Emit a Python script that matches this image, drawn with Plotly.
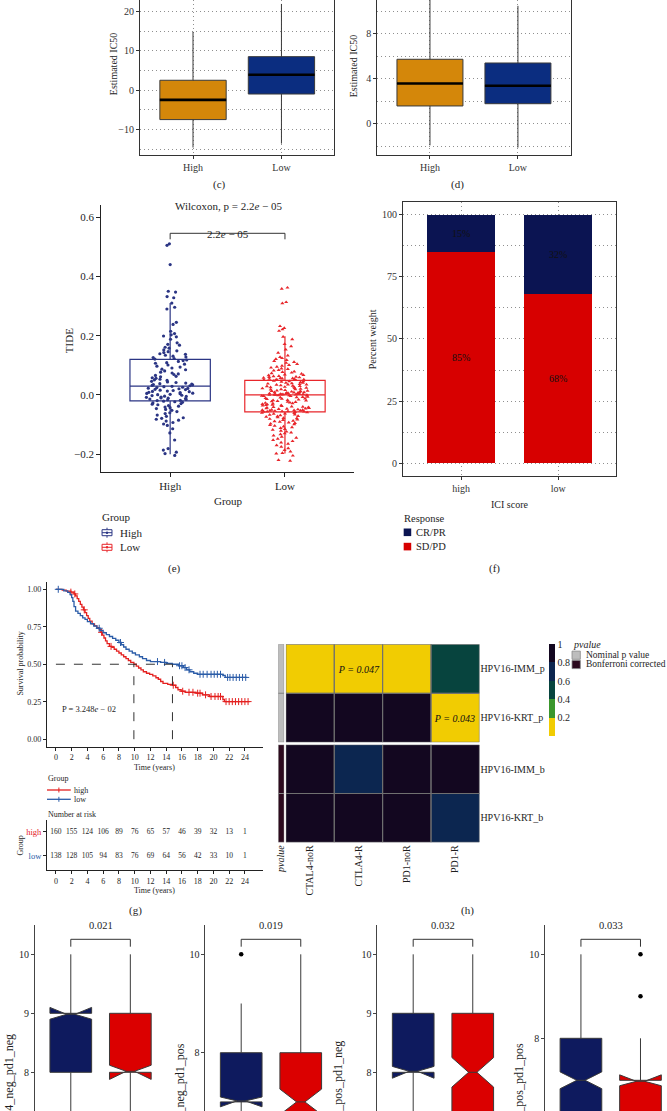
import numpy as np
import plotly.graph_objects as go

W, H = 667, 1111
SERIF = "Liberation Serif"
INK = "#1e1e1e"
AX = "#333333"


def fx(px):
    return px / W


def fy(py):
    return 1 - py / H


# ---------------- (c) / (d) estimated IC50 ----------------
ic50_groups = ["High", "Low"]
ic50_colors = ["#D4870A", "#0B2D80"]
c_q1 = [-7.5, -1.0]
c_median = [-2.5, 3.9]
c_q3 = [2.5, 8.5]
c_low = [-14.6, -13.6]
c_high = [14.8, 21.9]
d_q1 = [1.6, 1.8]
d_median = [3.6, 3.4]
d_q3 = [5.75, 5.42]
d_low = [-1.9, -2.1]
d_high = [13.0, 10.5]

# ---------------- (e) TIDE ----------------
tide_groups = ["High", "Low"]
tide_colors = ["#2B3584", "#E8262B"]
tide_q1 = [-0.02, -0.057]
tide_median = [0.03, 0.0]
tide_q3 = [0.12, 0.049]
tide_low = [-0.2, -0.198]
tide_high = [0.31, 0.198]
tide_points_high = [
    0.51, 0.505, 0.44, 0.35, 0.347, 0.332, 0.328, 0.31, 0.296, 0.29, 0.245, 0.238, 0.215, 0.207, 0.203,
    0.199, 0.196, 0.188, 0.176, 0.171, 0.168, 0.161, 0.158, 0.152, 0.149, 0.146, 0.143, 0.139, 0.137,
    0.134, 0.131, 0.128, 0.126, 0.123, 0.121,
    0.118, 0.116, 0.113, 0.109, 0.107, 0.104, 0.101, 0.097, 0.094, 0.091, 0.087, 0.085, 0.081, 0.077,
    0.074, 0.071, 0.069, 0.066, 0.063, 0.061, 0.058, 0.056, 0.053, 0.051, 0.049, 0.046, 0.044, 0.042,
    0.04, 0.038, 0.037, 0.035, 0.034, 0.032, 0.031,
    0.029, 0.028, 0.026, 0.025, 0.023, 0.022, 0.021, 0.019, 0.018, 0.016, 0.015, 0.013, 0.012, 0.011,
    0.009, 0.008, 0.006, 0.005, 0.004, 0.002, 0.001, -0.001, -0.002, -0.004, -0.005, -0.007, -0.008,
    -0.01, -0.011, -0.012, -0.014, -0.015, -0.017, -0.018, -0.019,
    -0.021, -0.023, -0.025, -0.027, -0.029, -0.031, -0.033, -0.036, -0.038, -0.041, -0.043, -0.046,
    -0.049, -0.052, -0.056, -0.06, -0.063, -0.068, -0.072, -0.077, -0.079, -0.082, -0.085, -0.088,
    -0.093, -0.098, -0.103, -0.114, -0.128, -0.152, -0.181, -0.186, -0.193, -0.198, -0.204,
]
tide_points_low = [
    0.362, 0.358, 0.313, 0.309, 0.232, 0.226, 0.221, 0.216, 0.196, 0.188, 0.172, 0.164, 0.153, 0.142,
    0.133, 0.128, 0.124, 0.121, 0.118, 0.114, 0.111, 0.108, 0.104, 0.101, 0.098, 0.095, 0.092, 0.089,
    0.087, 0.084, 0.082, 0.079, 0.077, 0.075, 0.073, 0.071, 0.069, 0.067, 0.066, 0.064, 0.063, 0.061,
    0.06, 0.059, 0.058, 0.057, 0.056, 0.055, 0.054, 0.053, 0.052, 0.052, 0.051, 0.05, 0.05,
    0.048, 0.046, 0.046, 0.044, 0.043, 0.041, 0.041, 0.039, 0.038, 0.037, 0.035, 0.035, 0.034, 0.032,
    0.031, 0.03, 0.029, 0.027, 0.027, 0.026, 0.024, 0.023, 0.022, 0.021, 0.019, 0.019, 0.018, 0.016,
    0.015, 0.014, 0.013, 0.012, 0.011, 0.01, 0.009, 0.009, 0.008, 0.007, 0.006, 0.006, 0.005, 0.004,
    0.004, 0.003, 0.003, 0.002, 0.002, 0.001, 0.001, 0.001, 0.0, 0.0, 0.0, -0.001, 0.002,
    -0.001, -0.002, -0.003, -0.004, -0.004, -0.006, -0.007, -0.008, -0.009, -0.011, -0.012, -0.013,
    -0.014, -0.016, -0.017, -0.018, -0.019, -0.021, -0.022, -0.023, -0.024, -0.026, -0.027, -0.028,
    -0.029, -0.031, -0.032, -0.033, -0.034, -0.035, -0.036, -0.038, -0.039, -0.04, -0.041, -0.042,
    -0.043, -0.044, -0.045, -0.046, -0.047, -0.048, -0.049, -0.05, -0.051, -0.051, -0.052, -0.053,
    -0.053, -0.054, -0.055, -0.055, -0.056, -0.056, -0.057,
    -0.058, -0.059, -0.06, -0.061, -0.063, -0.064, -0.066, -0.067, -0.069, -0.071, -0.072, -0.074,
    -0.076, -0.078, -0.079, -0.081, -0.083, -0.085, -0.087, -0.089, -0.091, -0.093, -0.095, -0.097,
    -0.099, -0.102, -0.104, -0.107, -0.109, -0.112, -0.115, -0.118, -0.121, -0.124, -0.127, -0.13,
    -0.133, -0.137, -0.141, -0.145, -0.148, -0.152, -0.156, -0.161, -0.165, -0.17, -0.175, -0.18,
    -0.186, -0.191, -0.196, -0.198, -0.205, -0.22, -0.222,
]
tide_test = "Wilcoxon, p = 2.2<i>e</i> − 05"
tide_p = "2.2<i>e</i> − 05"

# ---------------- (f) response ----------------
ici_groups = ["high", "low"]
resp_sdpd = [85, 68]
resp_crpr = [15, 32]
resp_colors = {"CR/PR": "#0B1452", "SD/PD": "#D70000"}

# ---------------- (g) survival ----------------
surv_colors = {"high": "#E4201F", "low": "#2B5CA8"}
surv_high_t = [0, 0.8, 1.3, 1.9, 2.3, 2.5, 2.7, 2.9, 3.1, 3.3, 3.5, 3.7, 3.9, 4.1, 4.3, 4.6, 4.9, 5.2,
               5.5, 5.7, 5.9, 6.1, 6.3, 6.5, 6.8, 7.1, 7.4, 7.7, 8.0, 8.3, 8.6, 8.9, 9.2, 9.5, 9.9,
               10.2, 10.5, 10.8, 11.1, 11.5, 11.9, 12.3, 12.7, 13.0, 13.3, 13.6, 14.2, 14.8, 15.2,
               15.5, 15.9, 16.4, 17.8, 18.6, 19.5, 21.2, 21.4, 24.6]
surv_high_s = [1.0, 0.994, 0.988, 0.981, 0.969, 0.956, 0.938, 0.919, 0.9, 0.881, 0.863, 0.844, 0.825,
               0.806, 0.788, 0.769, 0.756, 0.744, 0.731, 0.713, 0.694, 0.675, 0.656, 0.638, 0.619,
               0.613, 0.6, 0.588, 0.575, 0.563, 0.55, 0.538, 0.525, 0.513, 0.5, 0.488, 0.475, 0.463,
               0.45, 0.44, 0.433, 0.423, 0.41, 0.4, 0.385, 0.372, 0.366, 0.36, 0.345, 0.33, 0.32,
               0.313, 0.307, 0.296, 0.285, 0.265, 0.251, 0.251]
surv_low_t = [0, 1.0, 1.5, 1.8, 2.0, 2.15, 2.3, 2.5, 2.8, 3.1, 3.4, 3.7, 4.0, 4.4, 4.8, 5.2, 5.6, 6.0,
              6.4, 6.8, 7.2, 7.6, 8.0, 8.3, 8.6, 8.9, 9.3, 9.7, 10.1, 10.6, 11.0, 11.5, 12.0, 13.3,
              14.0, 14.8, 15.6, 16.2, 16.6, 17.0, 17.5, 18.0, 21.2, 21.5, 24.3]
surv_low_s = [1.0, 0.99, 0.98, 0.965, 0.945, 0.92, 0.885, 0.855, 0.84, 0.825, 0.81, 0.8, 0.785, 0.77,
              0.755, 0.74, 0.725, 0.71, 0.698, 0.685, 0.672, 0.66, 0.645, 0.63, 0.615, 0.6, 0.588,
              0.575, 0.563, 0.55, 0.538, 0.525, 0.518, 0.512, 0.506, 0.5, 0.49, 0.478, 0.463, 0.45,
              0.44, 0.433, 0.425, 0.412, 0.412]
censor_high = [1.9, 2.4, 3.6, 5.8, 7.0, 14.9, 16.1, 16.9, 17.4, 18.0, 18.3, 19.0, 19.7, 20.2, 20.6,
               20.9, 21.6, 22.0, 22.4, 22.8, 23.2, 23.6, 24.0, 24.4]
censor_low = [0.3, 5.5, 8.2, 12.9, 13.8, 15.7, 16.0, 16.4, 16.9, 18.3, 18.7, 19.2, 19.7, 20.1, 20.5,
              20.9, 21.8, 22.1, 22.5, 22.9, 23.3, 23.7, 24.1]
surv_p = "P = 3.248<i>e</i> − 02"
risk_times = [0, 2, 4, 6, 8, 10, 12, 14, 16, 18, 20, 22, 24]
risk_high = [160, 155, 124, 106, 89, 76, 65, 57, 46, 39, 32, 13, 1]
risk_low = [138, 128, 105, 94, 83, 76, 69, 64, 56, 42, 33, 10, 1]

# ---------------- (h) heatmap ----------------
hm_cols = ["CTAL4-noR", "CTLA4-R", "PD1-noR", "PD1-R"]
hm_rows_nominal = ["HPV16-IMM_p", "HPV16-KRT_p"]
hm_rows_bonf = ["HPV16-IMM_b", "HPV16-KRT_b"]
hm_nominal = [[0.12, 0.047, 0.15, 0.5], [1.0, 1.0, 1.0, 0.043]]
hm_bonf = [[1.0, 0.75, 1.0, 1.0], [1.0, 1.0, 1.0, 0.69]]
pvalue_types = ["Nominal p value", "Bonferroni corrected"]
pvalue_colors = ["#BDBDBD", "#2C0A1E"]
hm_scale = [[0.0, "#F1CC02"], [0.2, "#F1CC02"], [0.2, "#3A962C"], [0.4, "#3A962C"],
            [0.4, "#07443E"], [0.6, "#07443E"], [0.6, "#0C2650"], [0.8, "#0C2650"],
            [0.8, "#130720"], [1.0, "#130720"]]

# ---------------- (i) IPS notched boxes ----------------
ips_names = ["ips_ctla4_neg_pd1_neg", "ips_ctla4_neg_pd1_pos", "ips_ctla4_pos_pd1_neg",
             "ips_ctla4_pos_pd1_pos"]
ips_groups = ["High", "Low"]
ips_colors = ["#0E1A5E", "#DB0000"]
ips_q1 = [[8, 8], [7, 6], [8, 7], [6, 6]]
ips_median = [[9, 8], [7, 7], [8, 8], [7, 7]]
ips_q3 = [[9, 9], [8, 8], [9, 9], [8, 7]]
ips_low = [[6, 6], [5, 4], [6, 5], [4, 5]]
ips_high = [[10, 10], [9, 10], [10, 10], [10, 8]]
ips_notch = [[0.1, 0.12], [0.1, 0.26], [0.1, 0.25], [0.2, 0.13]]
ips_outliers = [[[], []], [[10], []], [[], []], [[], [9, 10]]]
ips_p = ["0.021", "0.019", "0.032", "0.033"]

# =====================================================================
fig = go.Figure()
shapes = []
anns = []


def A(text, px, py, size=10, xanchor="center", yanchor="middle", angle=0, color=INK):
    anns.append(dict(text=text, x=fx(px), y=fy(py), xref="paper", yref="paper", showarrow=False,
                     xanchor=xanchor, yanchor=yanchor, textangle=angle, borderpad=0,
                     font=dict(family=SERIF, size=size, color=color)))


def R(px0, py0, px1, py1, fill, line=None, width=1):
    shapes.append(dict(type="rect", xref="paper", yref="paper", x0=fx(px0), x1=fx(px1),
                       y0=fy(py1), y1=fy(py0), fillcolor=fill,
                       line=dict(color=line if line else fill, width=width if line else 0)))


def L(px0, py0, px1, py1, color, width=1):
    shapes.append(dict(type="line", xref="paper", yref="paper", x0=fx(px0), x1=fx(px1),
                       y0=fy(py0), y1=fy(py1), line=dict(color=color, width=width)))


def bracket(xref, py_line, py_tick, py_text, label, size):
    shapes.append(dict(type="line", xref=xref, yref="paper", x0=0, x1=1, y0=fy(py_line),
                       y1=fy(py_line), line=dict(color=AX, width=1)))
    for xv in (0, 1):
        shapes.append(dict(type="line", xref=xref, yref="paper", x0=xv, x1=xv, y0=fy(py_line),
                           y1=fy(py_tick), line=dict(color=AX, width=1)))
    anns.append(dict(text=label, xref=xref, x=0.5, yref="paper", y=fy(py_text), showarrow=False,
                     font=dict(family=SERIF, size=size, color=INK)))


# ---- (c) & (d)
for (xa, ya, q1, med, q3, lo, hi) in [("x", "y", c_q1, c_median, c_q3, c_low, c_high),
                                       ("x2", "y2", d_q1, d_median, d_q3, d_low, d_high)]:
    for k, g in enumerate(ic50_groups):
        fig.add_trace(go.Box(x=[g], q1=[q1[k]], median=[med[k]], q3=[q3[k]], lowerfence=[lo[k]],
                             upperfence=[hi[k]], fillcolor=ic50_colors[k], width=0.75,
                             line=dict(color="#3a3a3a", width=1), whiskerwidth=0,
                             boxpoints=False, xaxis=xa, yaxis=ya, showlegend=False,
                             hoverinfo="skip"))
        shapes.append(dict(type="line", xref=xa, yref=ya, x0=k - 0.375, x1=k + 0.375,
                           y0=med[k], y1=med[k], line=dict(color="#000000", width=2.6)))

# ---- (e)
pts_lists = [tide_points_high, tide_points_low]
symbols = ["circle", "triangle-up"]
for k, g in enumerate(tide_groups):
    fig.add_trace(go.Box(x=[g], q1=[tide_q1[k]], median=[tide_median[k]], q3=[tide_q3[k]],
                         lowerfence=[tide_low[k]], upperfence=[tide_high[k]],
                         fillcolor="rgba(255,255,255,0)", width=0.7,
                         line=dict(color=tide_colors[k], width=1.2), whiskerwidth=0,
                         boxpoints=False, xaxis="x3", yaxis="y3", showlegend=False,
                         hoverinfo="skip"))
for k, g in enumerate(tide_groups):
    fig.add_trace(go.Box(x=[g] * len(pts_lists[k]), y=pts_lists[k], boxpoints="all", jitter=0.6,
                         pointpos=0, width=0.7, fillcolor="rgba(0,0,0,0)", line=dict(width=0),
                         marker=dict(color=tide_colors[k], size=3.2 if k == 0 else 3.6,
                                     symbol=symbols[k]),
                         xaxis="x3", yaxis="y3", showlegend=False, hoverinfo="skip"))
bracket("x3", 233.3, 239.3, 226, tide_p, 11)

# ---- (f)
fig.add_trace(go.Bar(x=ici_groups, y=resp_sdpd, width=0.7, marker=dict(color=resp_colors["SD/PD"], line=dict(width=0)),
                     text=[f"{v}%" for v in resp_sdpd], textposition="inside", insidetextanchor="middle",
                     textangle=0, textfont=dict(family=SERIF, size=10, color="#111111"),
                     xaxis="x4", yaxis="y4", showlegend=False, hoverinfo="skip"))
fig.add_trace(go.Bar(x=ici_groups, y=resp_crpr, width=0.7, marker=dict(color=resp_colors["CR/PR"], line=dict(width=0)),
                     text=[f"{v}%" for v in resp_crpr], textposition="inside", insidetextanchor="middle",
                     textangle=0, textfont=dict(family=SERIF, size=10, color="#111111"),
                     xaxis="x4", yaxis="y4", showlegend=False, hoverinfo="skip"))

# ---- (g) survival
curves = {"high": (surv_high_t, surv_high_s, censor_high), "low": (surv_low_t, surv_low_s, censor_low)}
medians = {}
for grp, (t, s, cens) in curves.items():
    t_arr, s_arr = np.array(t), np.array(s)
    fig.add_trace(go.Scatter(x=t, y=s, mode="lines", line=dict(color=surv_colors[grp], width=1.3, shape="hv"),
                             xaxis="x5", yaxis="y5", showlegend=False, hoverinfo="skip"))
    idx = np.searchsorted(t_arr, np.array(cens), side="right") - 1
    fig.add_trace(go.Scatter(x=cens, y=s_arr[idx].tolist(), mode="markers",
                             marker=dict(symbol="cross-thin", size=5, line=dict(color=surv_colors[grp], width=1)),
                             xaxis="x5", yaxis="y5", showlegend=False, hoverinfo="skip"))
    medians[grp] = float(t_arr[np.argmax(s_arr <= 0.5)])
tmax = max(medians.values())
fig.add_trace(go.Scatter(x=[0, tmax], y=[0.5, 0.5], mode="lines", line=dict(color="#333", width=1, dash="dash"),
                         xaxis="x5", yaxis="y5", showlegend=False, hoverinfo="skip"))
for grp in medians:
    fig.add_trace(go.Scatter(x=[medians[grp], medians[grp]], y=[0, 0.5], mode="lines",
                             line=dict(color="#333", width=1, dash="dash"),
                             xaxis="x5", yaxis="y5", showlegend=False, hoverinfo="skip"))
anns.append(dict(text=surv_p, xref="x5", yref="y5", x=0.55, y=0.2, xanchor="left", showarrow=False,
                 font=dict(family=SERIF, size=8.5, color=INK)))

# risk table
for grp, vals in (("high", risk_high), ("low", risk_low)):
    fig.add_trace(go.Scatter(x=risk_times, y=[grp] * len(vals), mode="text", text=[str(v) for v in vals],
                             textfont=dict(family=SERIF, size=7.5, color=INK),
                             xaxis="x6", yaxis="y6", showlegend=False, hoverinfo="skip"))

# ---- (h) heatmap
def cell_text(z):
    return [[f"<i>P = {v:.3f}</i>" if v < 0.05 else "" for v in row] for row in z]

fig.add_trace(go.Heatmap(z=hm_nominal, x=hm_cols, y=hm_rows_nominal, coloraxis="coloraxis",
                         text=cell_text(hm_nominal), texttemplate="%{text}",
                         textfont=dict(family=SERIF, size=10, color="#111111"),
                         xaxis="x7", yaxis="y7", hoverinfo="skip"))
fig.add_trace(go.Heatmap(z=hm_bonf, x=hm_cols, y=hm_rows_bonf, coloraxis="coloraxis",
                         xaxis="x7", yaxis="y9", hoverinfo="skip"))
strip_scale = [[0, pvalue_colors[0]], [1, pvalue_colors[1]]]
fig.add_trace(go.Heatmap(z=[[0], [0]], x=["pvalue"], y=hm_rows_nominal, colorscale=strip_scale, zmin=0, zmax=1,
                         showscale=False, xaxis="x8", yaxis="y7", hoverinfo="skip"))
fig.add_trace(go.Heatmap(z=[[1], [1]], x=["pvalue"], y=hm_rows_bonf, colorscale=strip_scale, zmin=0, zmax=1,
                         showscale=False, xaxis="x8", yaxis="y9", hoverinfo="skip"))
for yref in ("y7", "y9"):
    for r in range(2):
        for c in range(len(hm_cols)):
            shapes.append(dict(type="rect", xref="x7", yref=yref, x0=c - 0.5, x1=c + 0.5, y0=r - 0.5,
                               y1=r + 0.5, line=dict(color="#707070", width=1), fillcolor="rgba(0,0,0,0)"))
        shapes.append(dict(type="rect", xref="x8", yref=yref, x0=-0.5, x1=0.5, y0=r - 0.5, y1=r + 0.5,
                           line=dict(color="#8a8a8a", width=0.8), fillcolor="rgba(0,0,0,0)"))

# ---- (i) notched boxes
ips_axes = [("x10", "y10"), ("x11", "y11"), ("x12", "y12"), ("x13", "y13")]
for p, (xa, ya) in enumerate(ips_axes):
    for k, g in enumerate(ips_groups):
        fig.add_trace(go.Box(x=[g], q1=[ips_q1[p][k]], median=[ips_median[p][k]], q3=[ips_q3[p][k]],
                             lowerfence=[ips_low[p][k]], upperfence=[ips_high[p][k]], notched=True,
                             notchspan=[ips_notch[p][k]], notchwidth=0.4, width=0.7,
                             fillcolor=ips_colors[k], line=dict(color="#3a3a3a", width=1), whiskerwidth=0,
                             boxpoints=False, xaxis=xa, yaxis=ya, showlegend=False, hoverinfo="skip"))
        if ips_outliers[p][k]:
            fig.add_trace(go.Scatter(x=[g] * len(ips_outliers[p][k]), y=ips_outliers[p][k], mode="markers",
                                     marker=dict(color="#000000", size=4.5), xaxis=xa, yaxis=ya,
                                     showlegend=False, hoverinfo="skip"))
    bracket(xa, 939.3, 946.7, 932.7, ips_p[p], 10.5)

# =====================================================================
TF = dict(family=SERIF, size=10, color="#333333")
GRID = dict(showgrid=True, gridcolor="#8f8f8f", gridwidth=1, griddash="1px,3px")


def cat_axis(dom_px, anchor, cats, rng=(-0.6, 1.6), **kw):
    d = dict(domain=[fx(dom_px[0]), fx(dom_px[1])], anchor=anchor, type="category",
             categoryorder="array", categoryarray=cats, range=list(rng), zeroline=False,
             tickfont=TF, fixedrange=True)
    d.update(kw)
    return d


def val_axis(dom_py, anchor, rng, **kw):
    d = dict(domain=[fy(dom_py[1]), fy(dom_py[0])], anchor=anchor, range=list(rng), zeroline=False,
             tickfont=TF, fixedrange=True)
    d.update(kw)
    return d


frame = dict(showline=True, linecolor=AX, linewidth=1, ticks="outside", ticklen=3, tickcolor=AX)
time_axis = dict(range=[-1.135, 26.3], tickmode="array", tickvals=risk_times,
                 showgrid=False, zeroline=False, showline=True, linecolor="#222", ticks="outside",
                 ticklen=3, tickcolor="#222", tickfont=dict(family=SERIF, size=8, color=INK), fixedrange=True)
layout = dict(
    width=W, height=H, autosize=False, margin=dict(l=0, r=0, t=0, b=0, pad=0),
    paper_bgcolor="white", plot_bgcolor="rgba(0,0,0,0)", showlegend=False,
    font=dict(family=SERIF, size=10, color=INK), boxmode="overlay", barmode="stack",
    coloraxis=dict(cmin=0, cmax=1, colorscale=hm_scale,
                   colorbar=dict(x=fx(550), xanchor="left", y=fy(644.3), yanchor="top",
                                 len=(736 - 644.3) / H, lenmode="fraction", thickness=6,
                                 thicknessmode="pixels", outlinewidth=0, xpad=0, ypad=0,
                                 tickvals=[0.2, 0.4, 0.6, 0.8, 1.0], ticktext=["0.2", "0.4", "0.6", "0.8", "1"],
                                 ticks="", tickfont=dict(family=SERIF, size=10, color=INK))),
    # (c)
    xaxis=cat_axis((138, 334), "y", ic50_groups, **frame, **GRID),
    yaxis=val_axis((0, 155), "x", (-16.5, 22.9), dtick=10, tick0=0, mirror=True,
                   minor=dict(dtick=5, **GRID), **frame, **GRID),
    # (d)
    xaxis2=cat_axis((377, 572), "y2", ic50_groups, **frame, **GRID),
    yaxis2=val_axis((0, 155), "x2", (-2.76, 11.02), dtick=4, tick0=0, mirror=True,
                    minor=dict(dtick=2, **GRID), **frame, **GRID),
    # (e)
    xaxis3=cat_axis((99, 353.5), "y3", tide_groups, showline=True, linecolor="#222", ticks="outside",
                    ticklen=4, tickcolor="#222", showgrid=False,
                    tickfont=dict(family=SERIF, size=11, color=INK)),
    yaxis3=val_axis((205, 471.7), "x3", (-0.259, 0.641), dtick=0.2, tick0=0, tickformat=".1f",
                    showline=True, linecolor="#222", ticks="outside", ticklen=4, tickcolor="#222",
                    showgrid=False, tickfont=dict(family=SERIF, size=11, color=INK)),
    # (f)
    xaxis4=cat_axis((403, 618), "y4", ici_groups, mirror=True, **frame, **GRID),
    yaxis4=val_axis((201.7, 476), "x4", (-5.1, 105.2), dtick=25, tick0=0, mirror=True,
                    minor=dict(dtick=12.5, **GRID), **frame, **GRID),
    # (g)
    xaxis5=dict(domain=[fx(44.3), fx(262)], anchor="y5", **time_axis),
    yaxis5=val_axis((581.8, 746.7), "x5", (-0.05, 1.05), dtick=0.25, tick0=0, tickformat=".2f",
                    showgrid=False, showline=True, linecolor="#222", ticks="outside", ticklen=3,
                    tickcolor="#222", tickfont=dict(family=SERIF, size=8, color=INK)),
    xaxis6=dict(domain=[fx(44.3), fx(262)], anchor="y6", **time_axis),
    yaxis6=dict(domain=[fy(870), fy(820)], anchor="x6", type="category", categoryorder="array",
                categoryarray=["low", "high"], range=[-0.58, 1.48], showgrid=False, zeroline=False,
                showline=True, linecolor="#222", ticks="outside", ticklen=3, tickcolor="#222",
                tickvals=["low", "high"], fixedrange=True,
                ticktext=[f'<span style="color:{surv_colors["low"]}">low</span>',
                          f'<span style="color:{surv_colors["high"]}">high</span>'],
                tickfont=dict(family=SERIF, size=8.5)),
    # (h)
    xaxis7=dict(domain=[fx(285), fx(480)], anchor="y9", type="category", categoryorder="array",
                categoryarray=hm_cols, range=[-0.5, 3.5], tickangle=-90, ticks="", showgrid=False,
                zeroline=False, showline=False, tickfont=dict(family=SERIF, size=10, color=INK)),
    xaxis8=dict(domain=[fx(277.3), fx(283.3)], anchor="y9", type="category", range=[-0.5, 0.5],
                tickvals=["pvalue"], ticktext=["<i>pvalue</i>"], tickangle=-90, ticks="", showgrid=False,
                zeroline=False, showline=False, tickfont=dict(family=SERIF, size=10, color=INK)),
    yaxis7=dict(domain=[fy(742.3), fy(644.3)], anchor="x7", side="right", type="category",
                categoryorder="array", categoryarray=hm_rows_nominal, range=[1.5, -0.5], ticks="",
                showgrid=False, zeroline=False, tickfont=dict(family=SERIF, size=10, color=INK)),
    yaxis9=dict(domain=[fy(842.3), fy(744.7)], anchor="x7", side="right", type="category",
                categoryorder="array", categoryarray=hm_rows_bonf, range=[1.5, -0.5], ticks="",
                showgrid=False, zeroline=False, tickfont=dict(family=SERIF, size=10, color=INK)),
)

ips_x_px = [32.3, 204, 377.3, 546.3]
ips_yranges = [(7.344, 10.497), (6.815, 10.596), (7.344, 10.497), (6.269, 10.698)]
ips_dticks = [1, 2, 1, 2]
for p, (xa, ya) in enumerate(ips_axes):
    right = min(ips_x_px[p] + 2.2 * 60, W)
    xr = (-0.6, -0.6 + (right - ips_x_px[p]) / 60)
    layout["xaxis" + xa[1:]] = cat_axis((ips_x_px[p], right), ya, ips_groups, rng=xr, showgrid=False,
                                        showticklabels=False, showline=False)
    layout["yaxis" + ya[1:]] = val_axis((925, H), xa, ips_yranges[p], dtick=ips_dticks[p], tick0=0,
                                        showgrid=False, showline=True, linecolor="#444", ticks="outside",
                                        ticklen=3, tickcolor="#444",
                                        tickfont=dict(family=SERIF, size=10, color=INK))

# ---------------- text: titles, labels ----------------
A("Estimated IC50", 112, 64, 10, angle=-90)
A("Estimated IC50", 353, 66, 10, angle=-90)
A("(c)", 218, 185, 11)
A("(d)", 458, 185, 11)
A(tide_test, 226.7, 205.7, 11)
A("TIDE", 66.7, 341, 11, angle=-90)
A("Group", 226.7, 500.7, 11)
A("(e)", 173, 568.7, 11)
A("Percent weight", 372, 339, 10, angle=-90)
A("ICI score", 510, 504, 10)
A("(f)", 495, 568, 11)
A("Survival probability", 16.7, 664, 8, angle=-90)
A("Time (years)", 153, 767.3, 8)
A("Number at risk", 44.3, 814.3, 8, xanchor="left")
A("Group", 16.7, 846, 8, angle=-90)
A("Time (years)", 153, 890, 8)
A("(g)", 133, 910, 11)
A("(h)", 468, 910, 11)

ips_title_x = [6, 178.5, 337, 519.7]
ips_title_top = [1033, 1041.7, 1040, 1041.7]
for p, name in enumerate(ips_names):
    A(name, ips_title_x[p], ips_title_top[p], 12, yanchor="top", angle=-90)

# ---------------- legends ----------------
# (e) Group
A("Group", 99, 517, 11, xanchor="left")
for k, g in enumerate(tide_groups):
    cy = 532.7 + 14.6 * k
    col = tide_colors[k]
    R(99.8, cy - 3, 109.8, cy + 3, "rgba(0,0,0,0)", line=col, width=1)
    L(99.8, cy, 109.8, cy, col, 1)
    L(104.8, cy - 5, 104.8, cy - 3, col, 1)
    L(104.8, cy + 3, 104.8, cy + 5, col, 1)
    shapes.append(dict(type="circle", xref="paper", yref="paper", x0=fx(103.6), x1=fx(106),
                       y0=fy(cy + 1.2), y1=fy(cy - 1.2), fillcolor=col, line=dict(width=0)))
    A(g, 116.5, cy, 11, xanchor="left")

# (f) Response
A("Response", 403, 518.3, 10.5, xanchor="left")
for k, (name, col) in enumerate(resp_colors.items()):
    cy = 532.3 + 14.3 * k
    R(403.7, cy - 3.8, 411.3, cy + 3.8, col)
    A(name, 414.7, cy, 10.5, xanchor="left")

# (g) Group
A("Group", 44.3, 778.3, 8, xanchor="left")
for k, grp in enumerate(["high", "low"]):
    cy = 790 + 9.3 * k
    col = surv_colors[grp]
    L(44.3, cy, 68.3, cy, col, 1.3)
    L(56.3, cy - 2.5, 56.3, cy + 2.5, col, 1)
    A(grp, 70.5, cy, 8, xanchor="left")

# (h) pvalue
A("<i>pvalue</i>", 573.3, 644, 10, xanchor="left")
for k, name in enumerate(pvalue_types):
    cy = 655.2 + 9.3 * k
    R(573.3, cy - 4.1, 581.7, cy + 4.1, pvalue_colors[k], line="#8a8a8a", width=0.8)
    A(name, 586, cy, 9.5, xanchor="left")

layout["shapes"] = shapes
layout["annotations"] = anns
fig.update_layout(**layout)
fig.write_html("out.html", config={"displayModeBar": False, "staticPlot": True},
               post_script="document.body.style.margin='0';document.body.style.overflow='hidden';")
